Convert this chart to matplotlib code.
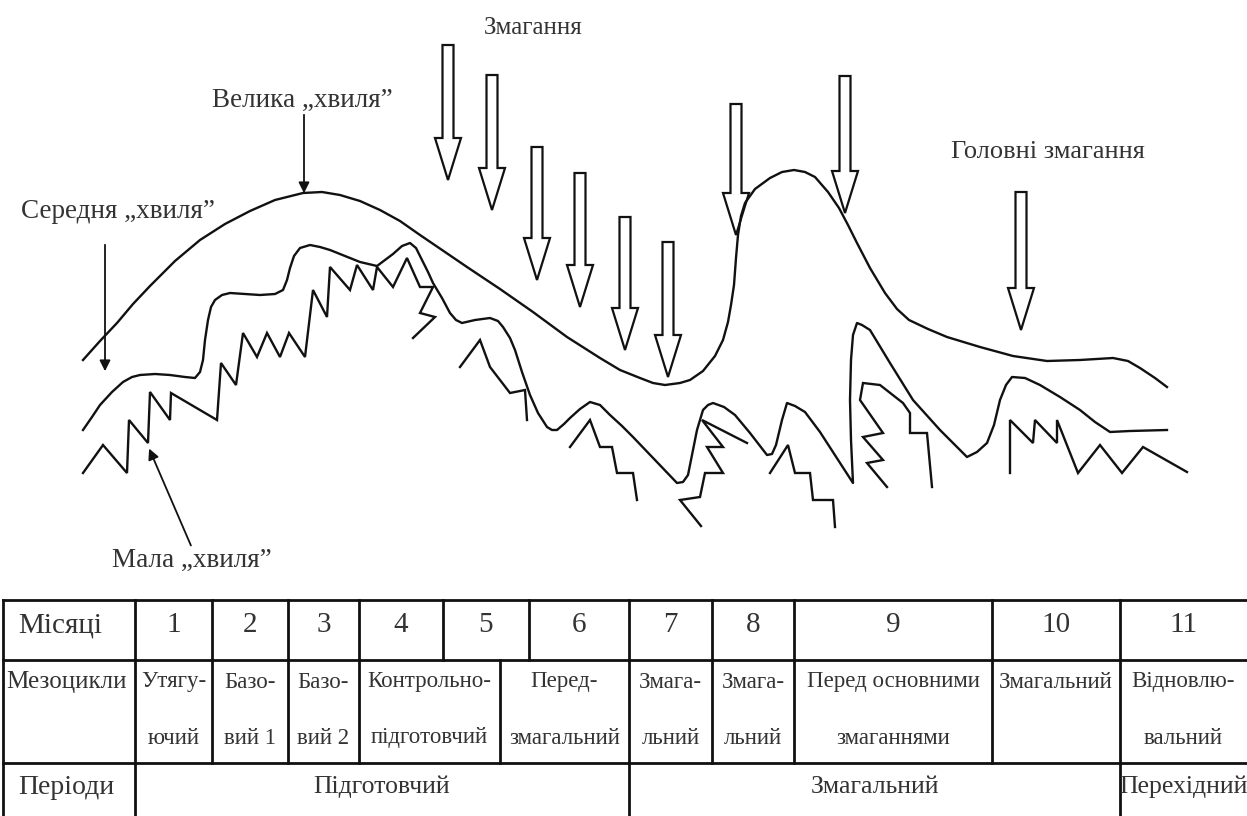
import matplotlib.pyplot as plt
from matplotlib.patches import FancyArrow

# canvas is laid out in picture pixels (y grows downward)
W, H = 1247, 816

# big wave
big_x = [83, 100, 117, 133, 150, 175, 200, 225, 250, 275, 303, 322, 340, 360, 380, 400, 420,
         445, 467, 500, 533, 567, 600, 620, 640, 653, 665, 680, 690, 703, 715, 723, 728, 731,
         734, 736, 738, 741, 745, 755, 770, 782, 794, 805, 815, 828, 839, 848, 857, 870, 885,
         897, 909, 928, 947, 980, 1013, 1047, 1080, 1113, 1128, 1140, 1155, 1167]
big_y = [360, 341, 323, 304, 286, 261, 240, 224, 211, 200, 193, 192, 195, 201, 210, 221, 235,
         252, 267, 289, 312, 337, 358, 370, 378, 383, 385, 383, 380, 371, 356, 340, 322, 305,
         285, 258, 235, 216, 203, 189, 178, 172, 170, 172, 177, 192, 208, 225, 243, 268, 293,
         309, 320, 329, 337, 347, 356, 361, 360, 358, 361, 368, 378, 387]

# middle wave
mid_x = [83, 92, 100, 112, 123, 132, 140, 155, 170, 185, 195, 200, 203, 205, 208, 211, 215,
         222, 230, 245, 260, 275, 283, 287, 290, 294, 300, 310, 320, 330, 345, 360, 377, 385,
         393, 402, 410, 416, 422, 428, 433, 442, 450, 456, 462, 475, 490, 498, 503, 510, 515,
         522, 530, 538, 547, 552, 557, 564, 570, 580, 590, 600, 610, 622, 633, 655, 677, 683,
         688, 692, 697, 703, 708, 713, 724, 735, 750, 767, 772, 776, 782, 787, 795, 805, 820,
         853, 851, 850, 851, 853, 857, 862, 870, 890, 913, 940, 967, 977, 987, 994, 1000, 1006,
         1012, 1025, 1040, 1060, 1080, 1095, 1110, 1130, 1167]
mid_y = [430, 417, 405, 392, 382, 377, 375, 374, 375, 377, 378, 372, 360, 340, 320, 307, 300,
         295, 293, 294, 295, 294, 290, 280, 268, 256, 248, 245, 247, 250, 256, 262, 266, 260,
         254, 246, 243, 248, 260, 272, 283, 298, 313, 320, 323, 320, 318, 321, 327, 338, 350,
         372, 395, 413, 427, 430, 430, 424, 418, 409, 402, 405, 415, 426, 437, 460, 483, 482,
         475, 455, 430, 410, 405, 403, 407, 415, 433, 455, 454, 445, 420, 403, 406, 412, 432,
         483, 440, 400, 360, 335, 323, 325, 330, 363, 400, 430, 457, 452, 443, 425, 400, 385,
         377, 378, 385, 397, 410, 422, 432, 431, 430]

# small wave, drawn in separate pieces
small_segments = [
    ([83, 103, 127, 129, 148, 150, 170, 171, 217, 221, 236, 243, 257, 267, 280, 289, 305,
      313, 327, 330, 350, 357, 373, 377, 393, 407, 420, 433, 420, 435, 413],
     [473, 445, 473, 420, 443, 392, 420, 393, 420, 363, 385, 333, 357, 333, 357, 333, 357,
      290, 317, 267, 290, 265, 290, 267, 287, 258, 287, 287, 313, 317, 338]),
    ([460, 480, 490, 510, 525, 527],
     [367, 340, 367, 393, 390, 420]),
    ([570, 590, 600, 612, 617, 633, 637],
     [447, 420, 447, 447, 473, 473, 500]),
    ([701, 680, 700, 705, 723, 707, 723, 702, 747],
     [526, 500, 497, 473, 473, 447, 447, 420, 443]),
    ([770, 788, 795, 810, 813, 833, 835],
     [473, 445, 473, 473, 500, 500, 527]),
    ([887, 867, 883, 863, 883, 860, 863, 880, 903, 910, 910, 927, 932],
     [487, 463, 460, 437, 433, 400, 383, 385, 403, 413, 433, 433, 487]),
    ([1010, 1010, 1033, 1035, 1057, 1057, 1078, 1100, 1122, 1143, 1187],
     [473, 420, 443, 420, 443, 420, 473, 445, 473, 447, 472]),
]

# competition arrows: x, top of shaft, tip
comp_x = [448, 492, 537, 580, 625, 668, 736, 845, 1021]
comp_top = [45, 75, 147, 173, 217, 242, 104, 76, 192]
comp_tip = [180, 210, 280, 307, 350, 377, 235, 213, 330]

# table
months = ["1", "2", "3", "4", "5", "6", "7", "8", "9", "10", "11"]
month_edges = [135, 212, 288, 359, 443, 529, 629, 712, 794, 992, 1120, 1247]
meso_edges = [135, 212, 288, 359, 500, 629, 712, 794, 992, 1120, 1247]
meso_top = ["Утягу-", "Базо-", "Базо-", "Контрольно-", "Перед-", "Змага-", "Змага-",
            "Перед основними", "Змагальний", "Відновлю-"]
meso_bottom = ["ючий", "вий 1", "вий 2", "підготовчий", "змагальний", "льний", "льний",
               "змаганнями", "", "вальний"]
period_names = ["Підготовчий", "Змагальний", "Перехідний"]
period_edges = [135, 629, 1120, 1247]

fig = plt.figure(figsize=(W / 100, H / 100), dpi=100)
ax = fig.add_axes([0, 0, 1, 1])
ax.set_xlim(0, W)
ax.set_ylim(H, 0)
ax.axis("off")

serif = "Liberation Serif"
ink = "#111111"
lw = 1.7

ax.plot(big_x, big_y, color=ink, lw=lw, solid_joinstyle="round")
ax.plot(mid_x, mid_y, color=ink, lw=lw, solid_joinstyle="round")
for sx, sy in small_segments:
    ax.plot(sx, sy, color=ink, lw=lw, solid_joinstyle="miter")

for x, t, b in zip(comp_x, comp_top, comp_tip):
    ax.add_patch(FancyArrow(x, t, 0, b - t, width=11, head_width=26, head_length=42,
                            length_includes_head=True, fc="white", ec=ink, lw=1.6))

# labels with thin arrows
ax.text(533, 28, "Змагання", family=serif, fontsize=18, ha="center", va="center", color="#333")
ax.text(1048, 152, "Головні змагання", family=serif, fontsize=19, ha="center", va="center", color="#333")

ax.text(302, 100, "Велика „хвиля”", family=serif, fontsize=19.5, ha="center", va="center", color="#333")
ax.annotate("", xy=(304, 196), xytext=(304, 112),
            arrowprops=dict(arrowstyle="-|>", color=ink, lw=1.3, mutation_scale=16))

ax.text(118, 212, "Середня „хвиля”", family=serif, fontsize=19.5, ha="center", va="center", color="#333")
ax.annotate("", xy=(105, 374), xytext=(105, 242),
            arrowprops=dict(arrowstyle="-|>", color=ink, lw=1.3, mutation_scale=16))

ax.text(192, 560, "Мала „хвиля”", family=serif, fontsize=19.5, ha="center", va="center", color="#333")
ax.annotate("", xy=(148, 446), xytext=(192, 548),
            arrowprops=dict(arrowstyle="-|>", color=ink, lw=1.3, mutation_scale=16))

# table grid
tl = 2.0
y0, y1, y2, y3 = 600, 660, 763, 816
for y in (y0, y1, y2):
    ax.plot([3, W], [y, y], color=ink, lw=tl)
ax.plot([3, 3], [y0, y3], color=ink, lw=tl)
for x in month_edges[:-1]:
    ax.plot([x, x], [y0, y1], color=ink, lw=tl)
for x in meso_edges[:-1]:
    ax.plot([x, x], [y1, y2], color=ink, lw=tl)
for x in period_edges[:-1]:
    ax.plot([x, x], [y2, y3], color=ink, lw=tl)

tc = "#333333"
ax.text(60, 625, "Місяці", family=serif, fontsize=21, ha="center", va="center", color=tc)
ax.text(66, 682, "Мезоцикли", family=serif, fontsize=18, ha="center", va="center", color=tc)
ax.text(66, 787, "Періоди", family=serif, fontsize=20, ha="center", va="center", color=tc)

for i, m in enumerate(months):
    cx = (month_edges[i] + month_edges[i + 1]) / 2
    ax.text(cx, 625, m, family=serif, fontsize=21, ha="center", va="center", color=tc)

for i in range(len(meso_top)):
    cx = (meso_edges[i] + meso_edges[i + 1]) / 2
    ax.text(cx, 682, meso_top[i], family=serif, fontsize=16.5, ha="center", va="center", color=tc)
    ax.text(cx, 738, meso_bottom[i], family=serif, fontsize=16.5, ha="center", va="center", color=tc)

for i, p in enumerate(period_names):
    cx = (period_edges[i] + period_edges[i + 1]) / 2
    ax.text(cx, 787, p, family=serif, fontsize=18.5, ha="center", va="center", color=tc)

fig.savefig("out.png", dpi=100)
